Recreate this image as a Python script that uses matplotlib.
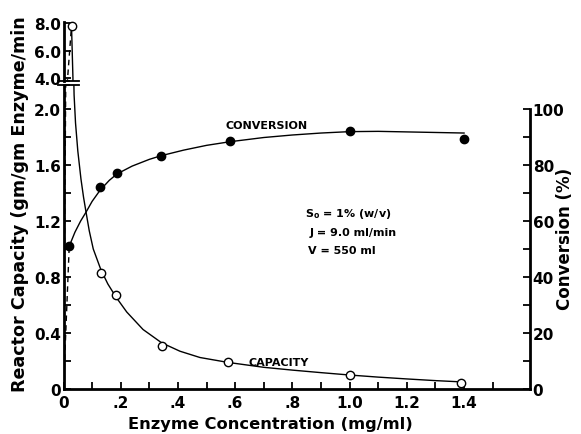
import numpy as np
import matplotlib
matplotlib.use('Agg')
import matplotlib.pyplot as plt

# measured points
cap_x = [0.028, 0.131, 0.185, 0.344, 0.575, 1.0, 1.39]
cap_y = [7.8, 0.83, 0.67, 0.31, 0.19, 0.10, 0.045]
conv_x = [0.02, 0.128, 0.187, 0.341, 0.582, 1.0, 1.40]
conv_y = [51, 72, 77, 83.2, 88.6, 92.1, 89.3]

# fitted curves
cap_cx = [0.028, 0.031, 0.033, 0.033, 0.034, 0.037, 0.042, 0.05, 0.061, 0.07, 0.079, 0.09,
          0.104, 0.131, 0.155, 0.184, 0.221, 0.278, 0.343, 0.407, 0.477, 0.575,
          0.70, 0.80, 0.90, 1.0, 1.1, 1.2, 1.3, 1.4]
cap_cy = [7.8, 5.5, 4.0, 3.0, 2.4, 2.1, 1.9, 1.7, 1.5, 1.37, 1.26, 1.13,
          1.0, 0.85, 0.75, 0.655, 0.55, 0.425, 0.33, 0.27, 0.225, 0.19,
          0.155, 0.135, 0.117, 0.10, 0.085, 0.072, 0.06, 0.05]
conv_cx = [0.02, 0.04, 0.06, 0.079, 0.10, 0.128, 0.16, 0.187, 0.24, 0.30, 0.341, 0.42,
           0.50, 0.582, 0.70, 0.80, 0.90, 1.0, 1.1, 1.2, 1.3, 1.4]
conv_cy = [51, 56, 60, 63.2, 67, 71, 74.5, 76.8, 79.6, 82, 83.3, 85.3,
           87, 88.3, 89.8, 90.7, 91.4, 91.9, 92, 91.8, 91.6, 91.4]

plt.rcParams['font.family'] = ['DejaVu Sans']
plt.rcParams['font.weight'] = 'bold'
plt.rcParams['axes.linewidth'] = 2.0

fig = plt.figure(figsize=(5.81, 4.35), dpi=100)
L, R = 0.1093, 0.912
ax_top = fig.add_axes([L, 0.8115, R - L, 0.947 - 0.8115])
ax = fig.add_axes([L, 0.1034, R - L, 0.8023 - 0.1034])
ax2 = ax.twinx()

xmax = 1.63
for a in (ax, ax_top):
    a.set_xlim(0, xmax)
    a.plot(cap_cx, cap_cy, color='black', lw=1.0)
    a.plot([0, cap_x[0]], [0, cap_y[0]], color='black', lw=1.0, ls=(0, (4, 3)))
    a.plot(cap_x, cap_y, 'o', ms=6, mfc='white', mec='black', mew=1.0, clip_on=False)

ax.set_ylim(0, 2.171)
ax_top.set_ylim(3.79, 8.07)
ax2.set_ylim(0, 2.171 * 50)

ax2.plot(conv_cx, conv_cy, color='black', lw=1.0)
ax2.plot([0, conv_x[0]], [0, conv_y[0]], color='black', lw=1.0, ls=(0, (4, 3)))
ax2.plot(conv_x, conv_y, 'o', ms=6, mfc='black', mec='black')

# spines
for s in ('top', 'right', 'bottom'):
    ax_top.spines[s].set_visible(False)
ax.spines['top'].set_visible(False)
ax.spines['right'].set_visible(False)
ax2.spines['top'].set_visible(False)
ax2.spines['left'].set_visible(False)
ax2.spines['bottom'].set_visible(False)
ax2.spines['right'].set_bounds(0, 100)

ax_top.set_xticks([])
ax_top.set_yticks([4.0, 6.0, 8.0])
ax_top.set_yticklabels(['4.0', '6.0', '8.0'])

ax.set_xticks([0, 0.2, 0.4, 0.6, 0.8, 1.0, 1.2, 1.4])
ax.set_xticklabels(['0', '.2', '.4', '.6', '.8', '1.0', '1.2', '1.4'])
ax.set_xticks(np.arange(0.1, 1.6, 0.2), minor=True)
ax.set_yticks([0, 0.4, 0.8, 1.2, 1.6, 2.0])
ax.set_yticklabels(['0', '0.4', '0.8', '1.2', '1.6', '2.0'])
ax.set_yticks([0.2, 0.6, 1.0, 1.4, 1.8], minor=True)
ax2.set_yticks([0, 20, 40, 60, 80, 100])
ax2.set_yticks([10, 30, 50, 70, 90], minor=True)

for a in (ax, ax_top, ax2):
    a.tick_params(which='both', direction='in', length=5, width=1.3, labelsize=11, pad=2)
ax.tick_params(axis='x', pad=4)
ax2.tick_params(axis='y', pad=2)

# break marks on axis and curve
kw = dict(color='black', lw=1.3, clip_on=False)
ax_top.plot([-0.012, 0.012], [0, 0], transform=ax_top.transAxes, **kw)
ax.plot([-0.012, 0.012], [1, 1], transform=ax.transAxes, **kw)
bx = 0.033 / xmax
ax_top.plot([bx - 0.012, bx + 0.012], [0, 0], transform=ax_top.transAxes, **kw)
ax.plot([bx - 0.012, bx + 0.012], [1, 1], transform=ax.transAxes, **kw)

# labels
ax2.text(0.565, 94.3, 'CONVERSION', fontsize=8, va='center')
ax.text(0.645, 0.193, 'CAPACITY', fontsize=8, va='center')
ax2.text(0.845, 61.6, r'$\mathregular{S_o}$ = 1% (w/v)', fontsize=8)
ax2.text(0.86, 55.1, 'J = 9.0 ml/min', fontsize=8)
ax2.text(0.855, 48.6, 'V = 550 ml', fontsize=8)

fig.text(0.034, 0.531, 'Reactor Capacity (gm/gm Enzyme/min', rotation=90,
         fontsize=12.6, ha='center', va='center')
fig.text(0.972, 0.45, 'Conversion (%)', rotation=90, fontsize=12,
         ha='center', va='center')
fig.text(0.466, 0.025, 'Enzyme Concentration (mg/ml)', fontsize=11.7,
         ha='center', va='center')

fig.savefig('out.png', dpi=100)
